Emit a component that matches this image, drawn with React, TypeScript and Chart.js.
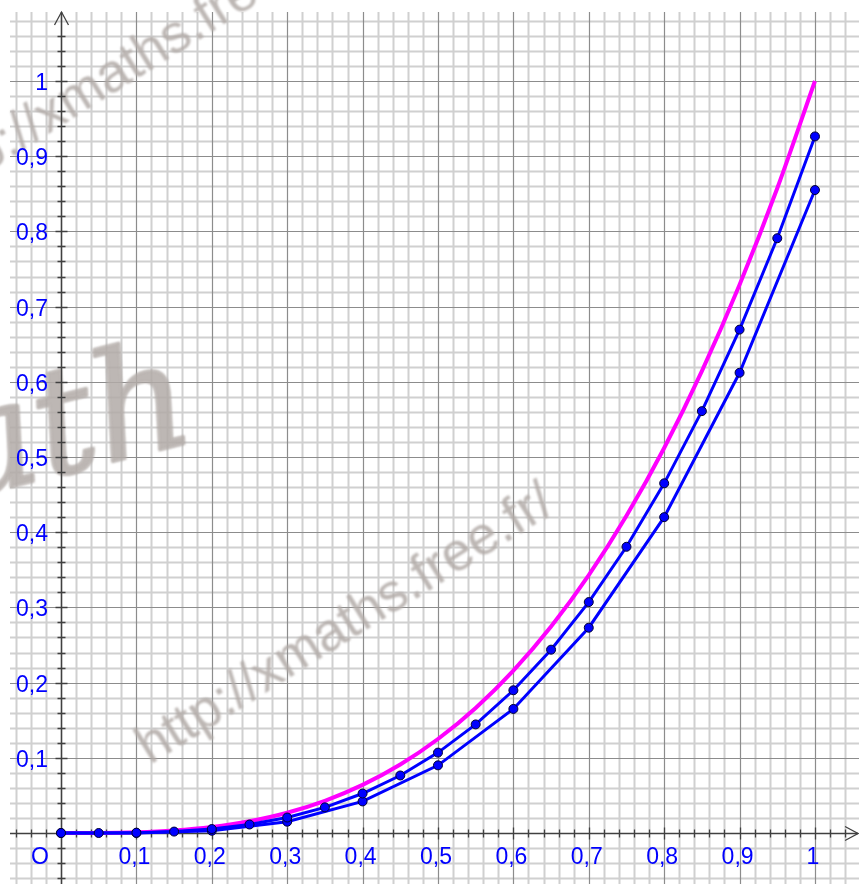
import React, { useEffect, useRef } from "react";
import { Chart, registerables } from "chart.js";

Chart.register(...registerables);

// ---- data ----
const xFine = [0, 0.05, 0.1, 0.15, 0.2, 0.25, 0.3, 0.35, 0.4, 0.45, 0.5, 0.55, 0.6, 0.65, 0.7, 0.75, 0.8, 0.85, 0.9, 0.95, 1];
const cubeY = [0, 0.000125, 0.001, 0.003375, 0.008, 0.015625, 0.027, 0.042875, 0.064, 0.091125, 0.125, 0.166375, 0.216, 0.274625, 0.343, 0.421875, 0.512, 0.614125, 0.729, 0.857375, 1];
const midY = [0, 0, 0.0004, 0.0019, 0.0053, 0.0113, 0.0206, 0.0341, 0.0525, 0.0765, 0.1069, 0.1444, 0.1898, 0.2438, 0.3071, 0.3806, 0.465, 0.561, 0.6694, 0.7909, 0.9263];
const xCoarse = [0, 0.1, 0.2, 0.3, 0.4, 0.5, 0.6, 0.7, 0.8, 0.9, 1];
const lowY = [0, 0, 0.003, 0.015, 0.042, 0.09, 0.165, 0.273, 0.42, 0.612, 0.855];

const tickValues = [0.1, 0.2, 0.3, 0.4, 0.5, 0.6, 0.7, 0.8, 0.9, 1];
const tickLabels = ["0,1", "0,2", "0,3", "0,4", "0,5", "0,6", "0,7", "0,8", "0,9", "1"];
const originLabel = "O";
const watermarkText = "http://xmaths.free.fr/";
const logoText = "ath";

const W = 859;
const H = 884;
const X_MIN = -0.0809;
const X_MAX = 1.0584;
const Y_MIN = -0.0678;
const Y_MAX = 1.1077;

const toPts = (xs: number[], ys: number[]) => xs.map((x, i) => ({ x, y: ys[i] }));

const backgroundPlugin = {
  id: "bgGrid",
  beforeDatasetsDraw(chart: any) {
    const ctx: CanvasRenderingContext2D = chart.ctx;
    const xs = chart.scales.x;
    const ys = chart.scales.y;
    const px = (v: number) => xs.getPixelForValue(v);
    const py = (v: number) => ys.getPixelForValue(v);
    ctx.save();
    ctx.fillStyle = "#ffffff";
    ctx.fillRect(0, 0, W, H);

    const gridTop = 12;
    const gridLeft = 10;
    const drawV = (k: number, color: string, lw: number) => {
      const x = Math.round(px(k * 0.02)) + 0.5;
      ctx.strokeStyle = color;
      ctx.lineWidth = lw;
      ctx.beginPath();
      ctx.moveTo(x, gridTop);
      ctx.lineTo(x, H);
      ctx.stroke();
    };
    const drawH = (k: number, color: string, lw: number) => {
      const y = Math.round(py(k * 0.02)) + 0.5;
      ctx.strokeStyle = color;
      ctx.lineWidth = lw;
      ctx.beginPath();
      ctx.moveTo(gridLeft, y);
      ctx.lineTo(W, y);
      ctx.stroke();
    };
    for (let k = -3; k <= 53; k++) if (k % 5 !== 0) drawV(k, "#d0d0d0", 2);
    for (let k = -3; k <= 54; k++) if (k % 5 !== 0) drawH(k, "#d0d0d0", 2);
    for (let k = -3; k <= 53; k++) if (k % 5 === 0) drawV(k, "#8c8c8c", 1.2);
    for (let k = -3; k <= 54; k++) if (k % 5 === 0) drawH(k, "#8c8c8c", 1.2);

    // watermark
    ctx.save();
    ctx.filter = "blur(0.8px)";
    ctx.fillStyle = "rgba(178,170,167,0.85)";
    ctx.strokeStyle = "rgba(178,170,167,0.85)";
    ctx.font = "54px 'Liberation Sans', Arial, sans-serif";
    ctx.textAlign = "left";
    ctx.textBaseline = "alphabetic";
    const ang = (-32 * Math.PI) / 180;
    const drawWm = (x0: number, y0: number) => {
      ctx.save();
      ctx.translate(x0, y0);
      ctx.rotate(ang);
      ctx.fillText(watermarkText, 0, 0);
      ctx.restore();
    };
    drawWm(150, 765);
    drawWm(-67, 206);
    ctx.save();
    ctx.translate(-40, 500);
    ctx.rotate((-14 * Math.PI) / 180);
    ctx.font = "italic 150px 'DejaVu Serif', serif";
    ctx.lineWidth = 2;
    ctx.lineJoin = "round";
    ctx.fillText(logoText, 0, 0);
    ctx.strokeText(logoText, 0, 0);
    ctx.restore();
    ctx.restore();

    // axes
    const ox = Math.round(px(0)) + 0.5;
    const oy = Math.round(py(0)) + 0.5;
    ctx.strokeStyle = "#404040";
    ctx.lineWidth = 1.5;
    ctx.beginPath();
    ctx.moveTo(gridLeft, oy);
    ctx.lineTo(858, oy);
    ctx.moveTo(ox, H);
    ctx.lineTo(ox, 12);
    ctx.stroke();
    // ticks
    ctx.lineWidth = 1.3;
    ctx.beginPath();
    for (let k = -3; k <= 52; k++) {
      if (k === 0) continue;
      const x = Math.round(px(k * 0.02)) + 0.5;
      const l = k % 5 === 0 ? 6 : 4;
      ctx.moveTo(x, oy - l);
      ctx.lineTo(x, oy + l);
    }
    for (let k = -3; k <= 53; k++) {
      if (k === 0) continue;
      const y = Math.round(py(k * 0.02)) + 0.5;
      const l = k % 5 === 0 ? 6 : 4;
      ctx.moveTo(ox - l, y);
      ctx.lineTo(ox + l, y);
    }
    ctx.stroke();
    // arrows
    ctx.beginPath();
    ctx.moveTo(845, oy - 7);
    ctx.lineTo(858, oy);
    ctx.lineTo(845, oy + 7);
    ctx.moveTo(ox - 7, 25);
    ctx.lineTo(ox, 12);
    ctx.lineTo(ox + 7, 25);
    ctx.stroke();

    // labels
    ctx.fillStyle = "#0000ff";
    ctx.font = "23px 'Liberation Sans', Arial, sans-serif";
    ctx.textBaseline = "alphabetic";
    ctx.textAlign = "center";
    tickValues.forEach((v, i) => {
      ctx.fillText(tickLabels[i], px(v) - 2, 864);
    });
    ctx.fillText(originLabel, 40, 864);
    ctx.textAlign = "right";
    tickValues.forEach((v, i) => {
      ctx.fillText(tickLabels[i], 48, py(v) + 9);
    });
    ctx.restore();
  },
};

export default function App() {
  const canvasRef = useRef<HTMLCanvasElement>(null);
  useEffect(() => {
    const canvas = canvasRef.current;
    if (!canvas) return;
    const pointStyle = {
      showLine: true,
      borderColor: "#0000ff",
      borderWidth: 3,
      pointRadius: 4.5,
      pointBackgroundColor: "#0000ff",
      pointBorderColor: "#000033",
      pointBorderWidth: 1,
      tension: 0,
    };
    const chart = new Chart(canvas, {
      type: "scatter",
      data: {
        datasets: [
          { data: toPts(xFine, midY), ...pointStyle },
          { data: toPts(xCoarse, lowY), ...pointStyle },
          {
            data: toPts(xFine, cubeY),
            showLine: true,
            borderColor: "#ff00ff",
            borderWidth: 4,
            pointRadius: 0,
            cubicInterpolationMode: "monotone",
            borderCapStyle: "butt",
          },
        ],
      } as any,
      options: {
        responsive: false,
        animation: false,
        devicePixelRatio: 1,
        events: [],
        layout: { padding: 0, autoPadding: false },
        plugins: { legend: { display: false }, tooltip: { enabled: false } },
        scales: {
          x: { type: "linear", display: false, min: X_MIN, max: X_MAX },
          y: { type: "linear", display: false, min: Y_MIN, max: Y_MAX },
        },
      } as any,
      plugins: [backgroundPlugin],
    });
    return () => chart.destroy();
  }, []);
  return (
    <div style={{ position: "absolute", left: 0, top: 0, width: W, height: H }}>
      <canvas ref={canvasRef} width={W} height={H} style={{ display: "block" }} />
    </div>
  );
}
